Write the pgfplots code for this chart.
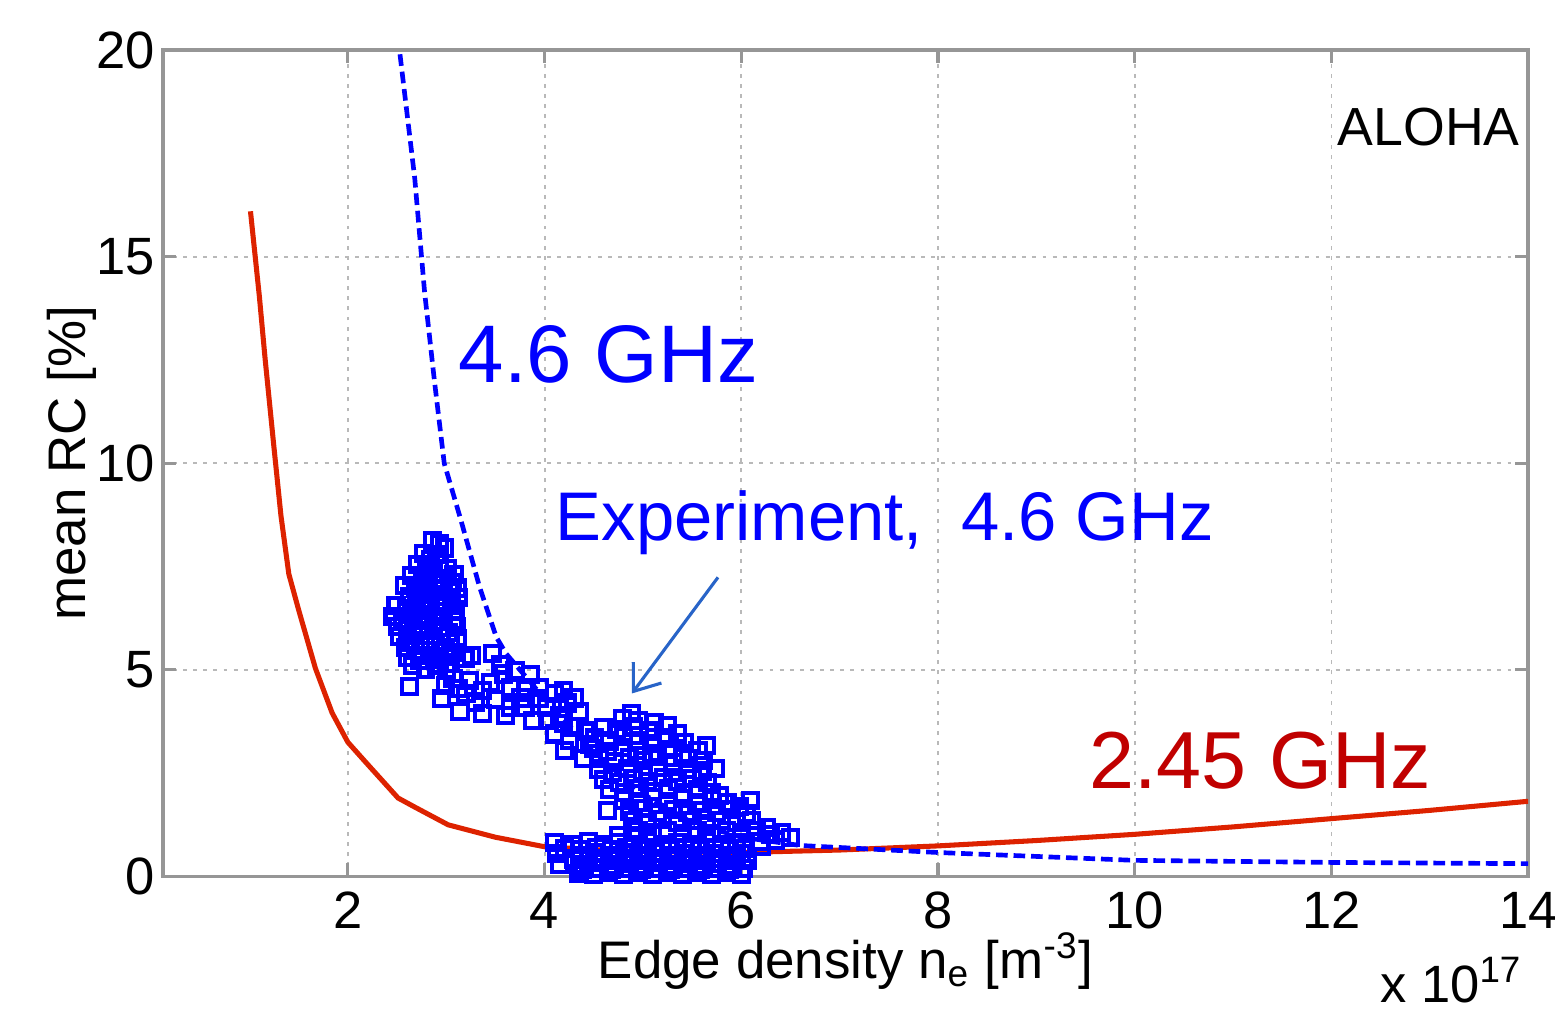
\documentclass[border=0pt]{standalone}
\usepackage{pgfplots}
\pgfplotsset{compat=1.18}
\usepackage{fontspec}
\setmainfont{Liberation Sans}
\usetikzlibrary{arrows.meta}
\definecolor{redcurve}{RGB}{221,34,0}
\definecolor{darkred}{RGB}{192,0,0}
\definecolor{axgray}{RGB}{150,150,150}
\definecolor{gridgray}{RGB}{185,185,185}
\definecolor{arrowblue}{RGB}{40,100,200}
\begin{document}
\begin{tikzpicture}
\begin{axis}[
  scale only axis,
  width=351.1pt, height=212.5pt,
  xmin=0.12, xmax=14, ymin=0, ymax=20,
  xtick={2,4,6,8,10,12,14},
  ytick={0,5,10,15,20},
  grid=major,
  major grid style={gridgray, dash pattern=on 1pt off 1.6pt, line width=0.5pt},
  axis line style={axgray, line width=1pt},
  every tick/.style={axgray, line width=0.8pt},
  major tick length=3.4pt,
  tick align=inside,
  /pgf/number format/assume math mode=true,
  ticklabel style={font=\fontsize{13.5}{15}\selectfont, text=black},
  xticklabel style={yshift=-0.5pt},
  yticklabel style={xshift=1.5pt},
  label style={font=\fontsize{13.6}{16}\selectfont},
  xlabel={Edge density n\textsubscript{e} [m\textsuperscript{-3}]},
  ylabel={mean RC [\%]},
  xlabel style={at={(rel axis cs:0.5,0)}, anchor=base, yshift=-26.2pt},
  ylabel style={at={(axis description cs:-0.067,0.5)}, anchor=center},
  clip=true,
]
\coordinate (SW) at (rel axis cs:0,0);
\coordinate (NE) at (rel axis cs:1,1);
% 2.45 GHz model
\addplot[redcurve, line width=1.3pt] coordinates {
(1.01,16.1)(1.10,14.05)(1.16,12.5)(1.25,10.36)(1.32,8.73)(1.40,7.32)(1.50,6.45)
(1.67,5.04)(1.84,3.96)(2.0,3.25)(2.18,2.77)(2.51,1.90)(2.68,1.68)(3.02,1.25)
(3.5,0.95)(4.0,0.72)(4.5,0.65)(5.0,0.6)(6.0,0.58)(7.0,0.64)(8.0,0.74)(9.0,0.87)
(10.0,1.02)(11.0,1.2)(12.0,1.4)(13.0,1.6)(14.0,1.82)
};
% 4.6 GHz model
\addplot[blue, line width=1.2pt, dash pattern=on 3pt off 1.5pt] coordinates {
(2.53,19.9)(2.68,16.9)(2.78,14.15)(2.88,12.0)(2.98,10.0)(3.15,8.62)(3.34,7.0)
(3.51,5.79)(3.61,5.39)(4.0,4.3)(4.5,3.0)(5.0,2.0)(5.5,1.3)(6.0,0.95)(6.6,0.75)
(8,0.58)(10,0.39)(12,0.34)(14,0.31)
};
% Experiment 4.6 GHz
\addplot[blue, only marks, mark=square, mark size=1.95pt, mark options={line width=1.05pt}] coordinates {
(2.86,8.12)(2.93,8.05)(2.98,7.95)
(2.77,7.82)(2.9,7.8)(2.84,7.68)
(2.71,7.55)(2.8,7.5)(2.93,7.58)(3.01,7.45)(3.08,7.3)
(2.65,7.28)(2.76,7.25)(2.87,7.33)(2.97,7.2)(3.06,7.12)
(2.58,7.05)(2.69,6.98)(2.79,7.08)(2.91,6.95)(3.03,6.9)(3.11,6.98)
(2.63,6.78)(2.74,6.82)(2.84,6.7)(2.95,6.78)(3.05,6.65)(3.12,6.75)
(2.49,6.55)(2.6,6.48)(2.7,6.6)(2.81,6.52)(2.9,6.42)(2.99,6.56)(3.09,6.45)
(2.46,6.3)(2.56,6.22)(2.67,6.35)(2.77,6.26)(2.87,6.18)(2.97,6.3)(3.07,6.2)
(2.51,6.05)(2.61,5.98)(2.72,6.08)(2.82,5.95)(2.93,6.02)(3.02,5.9)(3.1,6.05)
(2.53,5.8)(2.63,5.72)(2.74,5.84)(2.84,5.7)(2.94,5.8)(3.04,5.66)(3.11,5.75)
(2.59,5.55)(2.69,5.48)(2.79,5.6)(2.89,5.46)(2.99,5.55)(3.07,5.42)
(2.61,5.3)(2.73,5.22)(2.83,5.35)(2.93,5.25)(3.02,5.32)
(2.66,5.1)(2.79,5.02)(2.9,5.12)(3.0,5.02)
(2.63,4.6)
(3.19,5.28)(3.26,5.35)(3.47,5.4)(3.04,5.16)(3.07,4.8)(3.24,4.75)(3.37,4.5)(3.58,4.9)
(3.65,4.58)(3.82,4.58)(3.95,4.58)(4.19,4.5)(3.14,4.0)(3.37,3.95)(3.65,4.1)(4.02,4.1)
(4.23,4.2)(3.88,3.78)(4.05,3.78)(4.19,3.7)
(2.99,4.62)(2.95,4.3)(3.2,4.42)(3.5,4.28)(3.76,4.32)(3.55,5.12)(3.7,4.98)(3.86,4.88)(3.3,4.22)
(3.6,3.9)(3.95,4.3)(4.1,4.42)(4.3,4.32)(4.35,4.0)(4.3,3.62)(4.1,3.45)(4.25,3.3)(4.42,3.52)
(4.46,3.2)(4.2,3.05)(4.4,2.85)(3.45,4.7)(3.12,4.55)(3.8,4.1)(4.15,3.9)
(4.79,3.83)(4.95,3.78)(5.12,3.72)(4.88,3.95)
(4.6,3.6)(4.73,3.55)(4.9,3.62)(5.06,3.52)(5.25,3.66)(5.35,3.45)
(4.51,3.35)(4.66,3.28)(4.8,3.38)(4.96,3.3)(5.1,3.22)(5.24,3.35)(5.42,3.25)(5.65,3.17)
(4.5,3.1)(4.64,3.02)(4.79,3.12)(4.94,3.05)(5.09,2.98)(5.26,3.08)(5.4,2.98)(5.56,3.05)
(4.56,2.86)(4.71,2.78)(4.86,2.88)(5.0,2.8)(5.15,2.9)(5.31,2.76)(5.46,2.86)(5.61,2.8)
(4.55,2.6)(4.69,2.52)(4.84,2.62)(5.0,2.55)(5.16,2.64)(5.3,2.52)(5.45,2.6)(5.6,2.55)(5.74,2.62)
(4.6,2.35)(4.76,2.28)(4.9,2.38)(5.05,2.3)(5.21,2.4)(5.35,2.3)(5.5,2.38)(5.66,2.28)
(4.66,2.1)(4.81,2.04)(4.96,2.13)(5.1,2.05)(5.26,2.12)(5.41,2.02)(5.56,2.1)(5.7,2.04)(5.78,1.96)
(4.8,1.85)(4.95,1.8)(5.1,1.9)(5.25,1.82)(5.4,1.88)(5.55,1.78)(5.7,1.86)(5.86,1.78)(6.09,1.84)(5.98,1.7)
(4.64,1.6)(4.86,1.58)(5.0,1.64)(5.15,1.55)(5.31,1.62)(5.45,1.54)(5.6,1.6)(5.75,1.55)(5.9,1.62)(6.05,1.52)
(4.9,1.35)(5.05,1.3)(5.2,1.38)(5.35,1.3)(5.5,1.36)(5.65,1.28)(5.8,1.36)(5.95,1.3)(6.1,1.36)(6.26,1.19)
(4.95,1.1)(5.1,1.05)(5.25,1.12)(5.4,1.04)(5.55,1.1)(5.7,1.04)(5.85,1.12)(6.0,1.05)(6.15,1.1)(6.3,1.02)(6.41,1.07)
(6.5,0.95)(6.35,0.88)(4.75,1.0)(4.9,0.95)(6.2,0.85)
(4.1,0.82)(4.28,0.78)(4.45,0.84)(4.6,0.76)(4.75,0.83)(4.9,0.78)(5.05,0.84)(5.2,0.76)(5.35,0.82)(5.5,0.78)(5.65,0.84)(5.8,0.76)(5.95,0.82)(6.2,0.72)
(4.2,0.68)(4.37,0.66)(4.53,0.7)(4.68,0.65)(4.83,0.69)(4.98,0.65)(5.13,0.7)(5.28,0.65)(5.43,0.69)(5.58,0.65)(5.73,0.7)(5.88,0.65)(6.02,0.68)
(4.12,0.55)(4.36,0.5)(4.51,0.57)(4.66,0.5)(4.81,0.56)(4.96,0.5)(5.11,0.57)(5.26,0.5)(5.41,0.56)(5.56,0.5)(5.71,0.56)(5.86,0.5)(6.0,0.56)
(4.3,0.42)(4.45,0.4)(4.6,0.44)(4.75,0.4)(4.9,0.43)(5.05,0.4)(5.2,0.44)(5.35,0.4)(5.5,0.43)(5.65,0.4)(5.8,0.44)(5.95,0.4)
(4.15,0.3)(4.4,0.28)(4.56,0.33)(4.71,0.27)(4.86,0.32)(5.01,0.27)(5.16,0.33)(5.31,0.27)(5.46,0.32)(5.61,0.27)(5.76,0.32)(5.91,0.27)(6.06,0.39)
(4.38,0.18)(4.53,0.2)(4.68,0.17)(4.83,0.2)(4.98,0.17)(5.13,0.2)(5.28,0.17)(5.43,0.2)(5.58,0.17)(5.73,0.2)(5.88,0.17)(6.02,0.2)
(4.35,0.08)(4.5,0.06)(4.65,0.1)(4.8,0.06)(4.95,0.09)(5.1,0.06)(5.25,0.1)(5.4,0.06)(5.55,0.09)(5.7,0.06)(5.85,0.1)(6.0,0.06)
};
\draw[arrowblue, line width=0.8pt, -{Straight Barb[length=6pt,width=9pt]}] (axis cs:5.763,7.24) -- (axis cs:4.888,4.43);
\node[anchor=base west, inner sep=0pt, text=blue, font=\fontsize{21}{24}\selectfont] at (axis cs:3.12,11.96) {4.6 GHz};
\node[anchor=base west, inner sep=0pt, text=blue, font=\fontsize{17.7}{21}\selectfont] at (axis cs:4.105,8.14) {Experiment,\ \ 4.6 GHz};
\node[anchor=base west, inner sep=0pt, text=darkred, font=\fontsize{20.8}{24}\selectfont] at (axis cs:9.53,2.13) {2.45 GHz};
\node[anchor=base east, inner sep=0pt, font=\fontsize{13.8}{16}\selectfont] at (axis cs:13.92,17.7) {ALOHA};
\end{axis}
\node[anchor=base east, inner sep=0pt, font=\fontsize{13.5}{15}\selectfont] at ([shift={(-1.3pt,-32.4pt)}]SW -| NE) {x 10\textsuperscript{17}};
\pgfresetboundingbox
\path[use as bounding box] ([shift={(-41.9pt,-34pt)}]SW) rectangle ([shift={(6.9pt,12.9pt)}]NE);
\end{tikzpicture}
\end{document}
